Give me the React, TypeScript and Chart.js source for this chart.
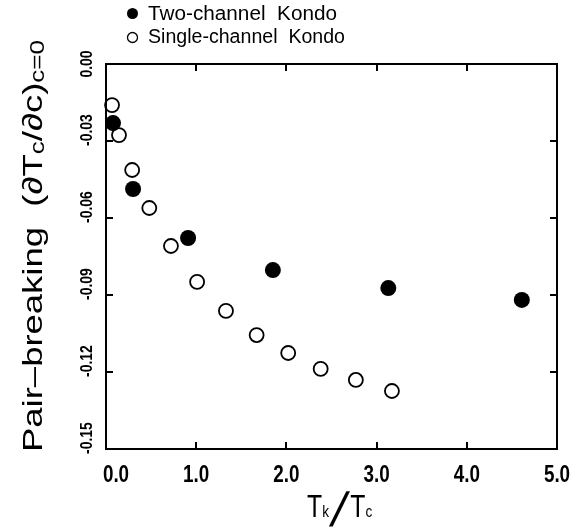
import React, { useEffect, useRef } from "react";
import { Chart, registerables } from "chart.js";

Chart.register(...registerables);

// ---- data ----
const twoChannelX = [0.078, 0.3, 0.91, 1.85, 3.13, 4.61];
const twoChannelY = [-0.023, -0.0487, -0.0678, -0.0803, -0.0873, -0.0919];
const singleChannelX = [0.067, 0.144, 0.29, 0.48, 0.72, 1.01, 1.33, 1.67, 2.02, 2.38, 2.77, 3.17];
const singleChannelY = [-0.016, -0.0277, -0.0413, -0.0561, -0.0709, -0.0849, -0.0962, -0.1056, -0.1126, -0.1188, -0.1231, -0.1274];
const seriesLabels = ["Two-channel  Kondo", "Single-channel  Kondo"];
const xTickValues = [0, 1, 2, 3, 4, 5];
const xTickLabels = ["0.0", "1.0", "2.0", "3.0", "4.0", "5.0"];
const yTickValues = [0, -0.03, -0.06, -0.09, -0.12, -0.15];
const yTickLabels = ["0.00", "-0.03", "-0.06", "-0.09", "-0.12", "-0.15"];
const xMin = 0;
const xMax = 5;
const yMin = -0.15;
const yMax = 0;
// axis titles: [text, isSubscript]
const xTitleParts: [string, boolean][] = [["T", false], ["k", true], ["/", false], ["T", false], ["c", true]];
const yTitleParts: [string, boolean][] = [["Pair–breaking  (∂T", false], ["c", true], ["/∂c)", false], ["c=0", true]];

const FONT = "'Liberation Sans', Arial, Helvetica, sans-serif";
const W = 579;
const H = 529;

const decorPlugin = {
  id: "decor",
  afterDraw(chart: any) {
    const ctx: CanvasRenderingContext2D = chart.ctx;
    const xs = chart.scales.x;
    const ys = chart.scales.y;
    const { left, right, top, bottom } = chart.chartArea;
    ctx.save();
    ctx.strokeStyle = "#000";
    ctx.fillStyle = "#000";
    // frame
    ctx.lineWidth = 2;
    ctx.strokeRect(left, top, right - left, bottom - top);
    // inward ticks
    const tl = 7;
    ctx.beginPath();
    xTickValues.forEach((v) => {
      if (v === xMin || v === xMax) return;
      const px = Math.round(xs.getPixelForValue(v));
      ctx.moveTo(px, bottom);
      ctx.lineTo(px, bottom - tl);
      ctx.moveTo(px, top);
      ctx.lineTo(px, top + tl);
    });
    yTickValues.forEach((v) => {
      if (v === yMin || v === yMax) return;
      const py = Math.round(ys.getPixelForValue(v));
      ctx.moveTo(left, py);
      ctx.lineTo(left + tl, py);
      ctx.moveTo(right, py);
      ctx.lineTo(right - tl, py);
    });
    ctx.stroke();

    // x tick labels
    ctx.font = `bold 23px ${FONT}`;
    ctx.textBaseline = "alphabetic";
    ctx.textAlign = "center";
    xTickValues.forEach((v, i) => {
      let px = xs.getPixelForValue(v);
      if (i === 0) px += 10;
      ctx.save();
      ctx.translate(px, 482);
      ctx.scale(0.82, 1);
      ctx.fillText(xTickLabels[i], 0, 0);
      ctx.restore();
    });

    // y tick labels (rotated, reading upward)
    ctx.font = `bold 17px ${FONT}`;
    yTickValues.forEach((v, i) => {
      const py = ys.getPixelForValue(v);
      const label = yTickLabels[i];
      ctx.save();
      if (label.startsWith("-")) {
        ctx.translate(92, py + 5);
        ctx.rotate(-Math.PI / 2);
        ctx.textAlign = "left";
      } else {
        ctx.translate(92, py);
        ctx.rotate(-Math.PI / 2);
        ctx.textAlign = "center";
      }
      ctx.scale(0.82, 1);
      ctx.fillText(label, 0, 0);
      ctx.restore();
    });

    // x title
    ctx.textAlign = "left";
    let cx = 307;
    xTitleParts.forEach(([t, sub]) => {
      ctx.save();
      if (t === "/") {
        ctx.font = `48px ${FONT}`;
        const w = ctx.measureText(t).width;
        ctx.translate(cx, 526);
        ctx.transform(1, 0, -0.22, 1, 0, 0);
        ctx.fillText(t, 0, 0);
        cx += w + 8;
      } else if (sub) {
        ctx.font = `16px ${FONT}`;
        const w = ctx.measureText(t).width * 0.85;
        ctx.translate(cx, 517);
        ctx.scale(0.85, 1);
        ctx.fillText(t, 0, 0);
        cx += w;
      } else {
        ctx.font = `31px ${FONT}`;
        const w = ctx.measureText(t).width * 0.8;
        ctx.translate(cx, 517);
        ctx.scale(0.8, 1);
        ctx.fillText(t, 0, 0);
        cx += w;
      }
      ctx.restore();
    });

    // y title (rotated, fit into target length)
    const mainFont = `28px ${FONT}`;
    const subFont = `20px ${FONT}`;
    let total = 0;
    const widths = yTitleParts.map(([t, sub]) => {
      ctx.font = sub ? subFont : mainFont;
      const w = ctx.measureText(t).width;
      total += w;
      return w;
    });
    const startY = 452;
    const endY = 40;
    const sx = (startY - endY) / total;
    ctx.save();
    ctx.translate(42, startY);
    ctx.rotate(-Math.PI / 2);
    ctx.scale(sx, 1);
    let cur = 0;
    yTitleParts.forEach(([t, sub], i) => {
      ctx.font = sub ? subFont : mainFont;
      ctx.textAlign = "left";
      ctx.fillText(t, cur, sub ? 2 : 0);
      cur += widths[i];
    });
    ctx.restore();

    // legend
    const rows = [
      { cy: 13.5, base: 20, width: 189 },
      { cy: 37.5, base: 43, width: 197 },
    ];
    chart.data.datasets.forEach((ds: any, i: number) => {
      const r = rows[i];
      ctx.beginPath();
      ctx.arc(132.5, r.cy, i === 0 ? 5.5 : 5, 0, Math.PI * 2);
      if (i === 0) {
        ctx.fillStyle = "#000";
        ctx.fill();
      } else {
        ctx.lineWidth = 1.3;
        ctx.stroke();
      }
      ctx.font = `20px ${FONT}`;
      const w = ctx.measureText(ds.label).width;
      ctx.save();
      ctx.translate(148, r.base);
      ctx.scale(r.width / w, 1);
      ctx.fillStyle = "#000";
      ctx.textAlign = "left";
      ctx.fillText(ds.label, 0, 0);
      ctx.restore();
    });
    ctx.restore();
  },
};

export default function App() {
  const ref = useRef<HTMLCanvasElement | null>(null);
  useEffect(() => {
    if (!ref.current) return;
    const chart = new Chart(ref.current, {
      type: "scatter",
      data: {
        datasets: [
          {
            label: seriesLabels[0],
            data: twoChannelX.map((x, i) => ({ x, y: twoChannelY[i] })),
            backgroundColor: "#000",
            borderColor: "#000",
            borderWidth: 0,
            pointRadius: 8,
            pointHoverRadius: 8,
            clip: false,
          },
          {
            label: seriesLabels[1],
            data: singleChannelX.map((x, i) => ({ x, y: singleChannelY[i] })),
            backgroundColor: "rgba(0,0,0,0)",
            borderColor: "#000",
            borderWidth: 1.8,
            pointRadius: 7,
            pointHoverRadius: 7,
            clip: false,
          },
        ],
      },
      options: {
        animation: false,
        responsive: false,
        maintainAspectRatio: false,
        devicePixelRatio: 1,
        layout: { padding: { left: 106, right: W - 557, top: 64, bottom: H - 449 } },
        plugins: {
          legend: { display: false },
          tooltip: { enabled: false },
          title: { display: false },
        },
        scales: {
          x: { type: "linear", min: xMin, max: xMax, display: false },
          y: { type: "linear", min: yMin, max: yMax, display: false },
        },
      },
      plugins: [decorPlugin],
    } as any);
    return () => chart.destroy();
  }, []);
  return (
    <div style={{ position: "absolute", left: 0, top: 0, width: W, height: H, background: "#fff" }}>
      <canvas ref={ref} width={W} height={H} style={{ display: "block" }} />
    </div>
  );
}
